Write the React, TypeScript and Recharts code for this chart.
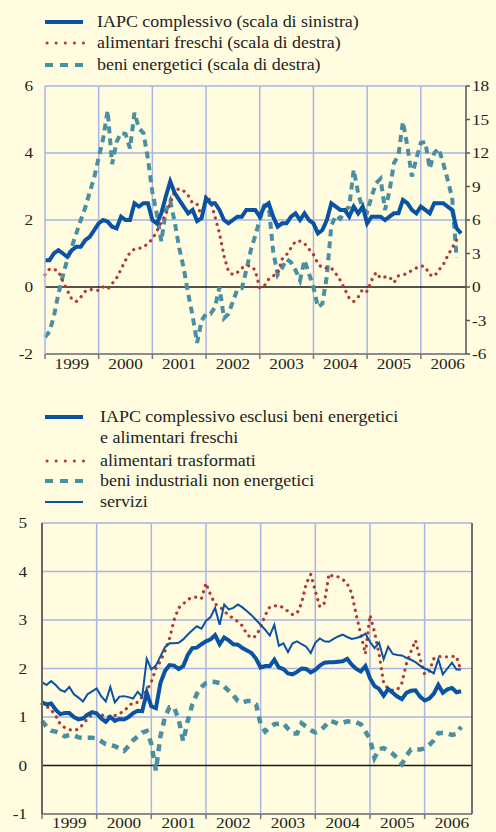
import { LineChart, Line, XAxis, YAxis, ReferenceLine } from "recharts";

// monthly values, Jan 1999 onwards
const years = ["1999", "2000", "2001", "2002", "2003", "2004", "2005", "2006"];
const yearBreaks = [12, 24, 36, 48, 60, 72, 84];
const yearMids = [6, 18, 30, 42, 54, 66, 78, 90];

// top panel
const iapcTop = [
  0.8, 0.8, 1.0, 1.1, 1.0, 0.9, 1.1, 1.2, 1.2, 1.4, 1.5, 1.7,
  1.9, 2.0, 1.95, 1.8, 1.75, 2.1, 2.0, 2.0, 2.5, 2.4, 2.5, 2.5,
  2.0, 1.9, 2.2, 2.7, 3.15, 2.8, 2.6, 2.4, 2.2, 2.3, 1.97, 2.05,
  2.65, 2.5, 2.5, 2.3, 2.0, 1.9, 2.0, 2.1, 2.1, 2.3, 2.3, 2.3,
  2.1, 2.4, 2.5, 2.1, 1.8, 1.9, 1.9, 2.1, 2.2, 2.0, 2.2, 2.0,
  1.9, 1.6, 1.7, 2.0, 2.5, 2.4, 2.3, 2.3, 2.1, 2.4, 2.2, 2.4,
  1.9, 2.1, 2.1, 2.1, 2.0, 2.1, 2.2, 2.2, 2.6, 2.5, 2.3, 2.2,
  2.4, 2.3, 2.2, 2.5, 2.5, 2.5, 2.4, 2.3, 1.75, 1.6,
];
const freschiTop = [
  1.1, 1.6, 1.6, 1.4, 0.5, -0.3, -1.1, -1.3, -0.9, -0.4, -0.2, -0.3,
  -0.3, 0.0, -0.2, 0.3, 0.8, 1.6, 2.4, 3.1, 3.4, 3.45, 3.55, 3.9,
  4.3, 5.0, 5.8, 6.5, 7.5, 8.6, 8.8, 8.6, 8.2, 7.5, 7.4, 6.3,
  8.2, 7.7, 6.3, 4.8, 2.8, 1.4, 1.1, 1.3, 1.7, 1.9, 1.9, 1.5,
  -0.1, 0.1, 0.7, 1.0, 1.2, 2.5, 2.9, 3.5, 4.1, 4.1, 3.9, 3.4,
  2.9, 2.1, 1.7, 1.7, 1.7, 1.2, 0.6, -0.2, -1.0, -1.3, -0.9, -0.2,
  -0.4, 0.6, 1.3, 0.8, 0.9, 0.9, 0.4, 1.0, 1.1, 1.2, 1.5, 1.7,
  1.9, 1.8, 1.1, 0.95, 1.5, 2.0, 2.8, 3.5, 4.2,
];
const energeticiTop = [
  -4.5, -4.0, -2.6, -0.6, 1.0, 2.5, 3.6, 4.8, 6.0, 7.1, 8.5, 9.8,
  11.6, 13.3, 15.8, 11.0, 13.0, 13.8, 13.7, 12.4, 15.6, 14.2, 13.8, 11.5,
  8.5, 6.5, 4.1, 6.8, 7.7, 5.8, 3.5, 1.7, -0.6, -2.6, -5.0, -3.0,
  -2.4, -2.4, -1.8, 0.0, -2.8, -2.4, -1.3, -0.2, -0.1, 1.5, 3.3, 4.6,
  6.0, 7.3, 7.3, 3.2, 1.1, 1.7, 2.5, 2.2, 1.5, 0.6, 2.4, 1.2,
  0.0, -1.8, -1.5, 1.0, 5.5, 6.4, 6.1, 6.8, 7.2, 10.5, 8.4, 7.0,
  6.7, 8.1, 9.3, 9.7, 6.9, 8.6, 11.1, 11.8, 14.8, 12.6, 9.9, 11.5,
  12.9, 13.0, 10.6, 12.0, 12.4, 11.1, 9.6, 8.0, 2.6,
];

// bottom panel
const coreBottom = [
  1.3, 1.26, 1.28, 1.15, 1.06, 1.08, 1.08, 1.0, 0.95, 0.97, 1.05, 1.1,
  1.07, 0.97, 0.9, 1.0, 0.92, 0.96, 0.95, 1.0, 1.08, 1.13, 1.12, 1.5,
  1.22, 1.18, 1.7, 1.95, 2.07, 2.06, 1.99, 2.05, 2.28, 2.42, 2.43, 2.5,
  2.56, 2.6, 2.69, 2.5, 2.64, 2.58, 2.5, 2.49, 2.42, 2.37, 2.32, 2.2,
  2.02, 2.05, 2.05, 2.18, 2.02, 1.99, 1.9, 1.88, 1.93, 2.0, 1.99, 1.92,
  1.97, 2.06, 2.12, 2.13, 2.13, 2.14, 2.15, 2.2, 2.08, 1.99, 1.94, 2.05,
  1.8, 1.64, 1.58, 1.44, 1.58, 1.5, 1.42, 1.37, 1.5, 1.54, 1.55, 1.42,
  1.34, 1.38, 1.48, 1.66, 1.5, 1.57, 1.6, 1.51, 1.53,
];
const trasformatiBottom = [
  1.27, 1.22, 1.15, 1.03, 0.85, 0.78, 0.74, 0.72, 0.75, 0.85, 0.97, 1.05,
  1.08, 1.05, 1.0, 1.01, 1.03, 1.07, 1.12, 1.22, 1.3, 1.3, 1.42, 1.55,
  1.72, 2.0, 2.15, 2.36, 2.62, 3.0, 3.25, 3.33, 3.42, 3.47, 3.47, 3.44,
  3.76, 3.52, 3.33, 3.28, 3.18, 3.1, 3.03, 2.97, 2.88, 2.7, 2.63, 2.67,
  2.85, 3.1, 3.27, 3.29, 3.3, 3.25, 3.18, 3.11, 3.14, 3.35, 3.75, 3.94,
  3.6, 3.27, 3.35, 3.95, 3.89, 3.89, 3.84, 3.75, 3.55, 3.1, 2.7, 2.3,
  3.1, 2.75, 2.3, 1.7, 1.58, 1.55, 1.56, 1.7, 2.1, 2.35, 2.58, 2.2,
  1.88, 1.94, 2.2, 2.25, 2.24, 2.24, 2.25, 2.25, 1.94,
];
const industrialiBottom = [
  0.92, 0.8, 0.72, 0.7, 0.66, 0.6, 0.63, 0.62, 0.58, 0.57, 0.57, 0.57,
  0.56, 0.5, 0.44, 0.42, 0.4, 0.35, 0.3, 0.4, 0.52, 0.6, 0.68, 0.71,
  0.45, -0.1, 0.6, 1.0, 1.2, 1.2, 0.95, 0.5, 0.92, 1.26, 1.48, 1.62,
  1.7, 1.73, 1.72, 1.7, 1.63, 1.54, 1.45, 1.33, 1.3, 1.33, 1.33, 1.26,
  0.85, 0.7, 0.78, 0.85, 0.86, 0.87, 0.76, 0.66, 0.66, 0.87, 0.8, 0.73,
  0.68, 0.72, 0.8, 0.92, 0.9, 0.86, 0.88, 0.91, 0.9, 0.89, 0.85, 0.7,
  0.55, 0.16, 0.34, 0.36, 0.3, 0.24, 0.15, 0.03, 0.2, 0.33, 0.33, 0.33,
  0.35, 0.42, 0.52, 0.67, 0.67, 0.66, 0.63, 0.65, 0.8,
];
const serviziBottom = [
  1.72, 1.66, 1.74, 1.66, 1.56, 1.52, 1.62, 1.47, 1.4, 1.32, 1.47, 1.53,
  1.59, 1.43, 1.32, 1.62, 1.3, 1.42, 1.43, 1.41, 1.38, 1.52, 1.42, 2.2,
  1.98, 2.06, 2.25, 2.44, 2.52, 2.52, 2.53, 2.6, 2.7, 2.79, 2.87, 2.82,
  2.98, 3.06, 3.25, 2.9, 3.32, 3.22, 3.25, 3.32, 3.26, 3.18, 3.1, 3.0,
  2.9, 2.8, 2.68, 2.9, 2.47, 2.52, 2.34, 2.52, 2.56, 2.5, 2.45, 2.32,
  2.53, 2.62, 2.56, 2.55, 2.61, 2.66, 2.7, 2.65, 2.61, 2.63, 2.66, 2.72,
  2.55, 2.42, 2.53, 2.19, 2.45, 2.3, 2.28, 2.27, 2.22, 2.18, 2.13, 2.06,
  2.0, 1.96, 1.9, 2.19, 1.88, 2.0, 2.12, 1.98, 1.98,
];

const topLeftTicks = [-2, 0, 2, 4, 6];
const topRightTicks = [-6, -3, 0, 3, 6, 9, 12, 15, 18];
const bottomTicks = [-1, 0, 1, 2, 3, 4, 5];

const BG = "#fffcdf";
const GRID = "#a9b5e4";
const BLUE = "#0a52a3";
const RED = "#b33a33";
const TEAL = "#4a8fa2";
const TEXT = "#222";
const FONT = "'Liberation Serif', 'Times New Roman', serif";

const topData = iapcTop.map((v, i) => ({
  m: i,
  iapc: v,
  freschi: freschiTop[i] ?? null,
  energetici: energeticiTop[i] ?? null,
}));

const bottomData = coreBottom.map((v, i) => ({
  m: i,
  core: v,
  trasformati: trasformatiBottom[i],
  industriali: industrialiBottom[i],
  servizi: serviziBottom[i],
}));

function SideTick(props: any) {
  const { x, y, payload, anchor } = props;
  return (
    <g transform={`translate(${x},${y})`}>
      <text
        transform="scale(1.15,1)"
        textAnchor={anchor}
        dy="0.36em"
        fontSize={15}
        fontFamily={FONT}
        fill={TEXT}
      >
        {payload.value}
      </text>
    </g>
  );
}

function YearTick(props: any) {
  const { x, y, index, half, dy } = props;
  const bx = x - half;
  return (
    <g>
      <line x1={bx} x2={bx} y1={y} y2={y + 5} stroke="#777" strokeWidth={1.5} />
      <g transform={`translate(${x},${y + dy})`}>
        <text transform="scale(1.15,1)" textAnchor="middle" fontSize={15} fontFamily={FONT} fill={TEXT}>
          {years[index]}
        </text>
      </g>
    </g>
  );
}

function Sample({ kind }: { kind: string }) {
  if (kind === "dots")
    return <line x1={47} x2={84} y1={10} y2={10} stroke={RED} strokeWidth={3} strokeLinecap="round" strokeDasharray="0.1 9" />;
  if (kind === "dash")
    return <line x1={45} x2={83} y1={10} y2={10} stroke={TEAL} strokeWidth={4} strokeDasharray="8 7" />;
  return <line x1={45} x2={83} y1={10} y2={10} stroke={BLUE} strokeWidth={kind === "thin" ? 2 : 4} />;
}

function LegendRow({ top, kind, text, tx }: { top: number; kind?: string; text: string; tx: number }) {
  return (
    <div style={{ position: "absolute", top, left: 0, width: 496, height: 20 }}>
      {kind && (
        <svg width={90} height={20} style={{ position: "absolute", left: 0, top: 0 }}>
          <Sample kind={kind} />
        </svg>
      )}
      <span
        style={{
          position: "absolute",
          left: tx,
          top: 0,
          lineHeight: "20px",
          fontSize: 16,
          fontFamily: FONT,
          color: TEXT,
          whiteSpace: "nowrap",
          transform: "scaleX(1.12)",
          transformOrigin: "left center",
        }}
      >
        {text}
      </span>
    </div>
  );
}

export default function App() {
  return (
    <div style={{ position: "absolute", left: 0, top: 0, width: 496, height: 832, background: BG, overflow: "hidden" }}>
      <div style={{ position: "absolute", left: 0, top: 0 }}>
        <LineChart width={496} height={384} data={topData} margin={{ top: 86, right: 0, bottom: 0, left: 0 }}>
          <XAxis
            dataKey="m"
            type="number"
            domain={[0, 94.1]}
            ticks={yearMids}
            interval={0}
            height={30}
            tickLine={false}
            tickSize={0}
            tickMargin={0}
            axisLine={{ stroke: "#8c8c8c", strokeWidth: 2 }}
            tick={(p: any) => <YearTick {...p} half={26.84} dy={14.5} />}
          />
          <YAxis
            yAxisId="left"
            width={45}
            domain={[-2, 6]}
            ticks={topLeftTicks}
            interval={0}
            tickLine={false}
            tickSize={6}
            tickMargin={6}
            axisLine={{ stroke: GRID, strokeWidth: 1.5 }}
            tick={(p: any) => <SideTick {...p} anchor="end" />}
          />
          <YAxis
            yAxisId="right"
            orientation="right"
            width={30}
            domain={[-6, 18]}
            ticks={topRightTicks}
            interval={0}
            tickSize={4}
            tickMargin={2}
            tickLine={{ stroke: "#555", strokeWidth: 1.5 }}
            axisLine={{ stroke: "#555", strokeWidth: 1.5 }}
            tick={(p: any) => <SideTick {...p} anchor="start" />}
          />
          {yearBreaks.map((b) => (
            <ReferenceLine key={b} x={b} yAxisId="left" stroke={GRID} strokeWidth={1.5} />
          ))}
          {[2, 4, 6].map((v) => (
            <ReferenceLine key={v} y={v} yAxisId="left" stroke={GRID} strokeWidth={1.5} />
          ))}
          <ReferenceLine y={0} yAxisId="left" stroke="#1a1a1a" strokeWidth={1.5} />
          <Line
            yAxisId="right"
            dataKey="energetici"
            stroke={TEAL}
            strokeWidth={4}
            strokeDasharray="7 5"
            dot={false}
            activeDot={false}
            isAnimationActive={false}
          />
          <Line
            yAxisId="right"
            dataKey="freschi"
            stroke={RED}
            strokeWidth={3.2}
            strokeLinecap="round"
            strokeDasharray="0.1 6.5"
            dot={false}
            activeDot={false}
            isAnimationActive={false}
          />
          <Line
            yAxisId="left"
            dataKey="iapc"
            stroke={BLUE}
            strokeWidth={4}
            dot={false}
            activeDot={false}
            isAnimationActive={false}
          />
        </LineChart>
      </div>

      <div style={{ position: "absolute", left: 0, top: 400 }}>
        <LineChart width={496} height={444} data={bottomData} margin={{ top: 123, right: 0, bottom: 0, left: 0 }}>
          <XAxis
            dataKey="m"
            type="number"
            domain={[0, 94.4]}
            ticks={yearMids}
            interval={0}
            height={30}
            tickLine={false}
            tickSize={0}
            tickMargin={0}
            axisLine={{ stroke: "#8c8c8c", strokeWidth: 2 }}
            tick={(p: any) => <YearTick {...p} half={27.33} dy={14} />}
          />
          <YAxis
            yAxisId="left"
            width={42}
            domain={[-1, 5]}
            ticks={bottomTicks}
            interval={0}
            tickLine={false}
            tickSize={6}
            tickMargin={9}
            axisLine={{ stroke: "#666", strokeWidth: 2 }}
            tick={(p: any) => <SideTick {...p} anchor="end" />}
          />
          <YAxis
            yAxisId="right"
            orientation="right"
            width={24}
            domain={[-1, 5]}
            ticks={bottomTicks}
            interval={0}
            tickLine={false}
            tickSize={6}
            tickMargin={4}
            axisLine={{ stroke: "#444", strokeWidth: 1.5 }}
            tick={(p: any) => <SideTick {...p} anchor="start" />}
          />
          {yearBreaks.map((b) => (
            <ReferenceLine key={b} x={b} yAxisId="left" stroke={GRID} strokeWidth={1.5} />
          ))}
          {[1, 2, 3, 4, 5].map((v) => (
            <ReferenceLine key={v} y={v} yAxisId="left" stroke={GRID} strokeWidth={1.5} />
          ))}
          <ReferenceLine y={0} yAxisId="left" stroke="#1a1a1a" strokeWidth={1.5} />
          <Line
            yAxisId="left"
            dataKey="industriali"
            stroke={TEAL}
            strokeWidth={4.5}
            strokeDasharray="7 6"
            dot={false}
            activeDot={false}
            isAnimationActive={false}
          />
          <Line
            yAxisId="left"
            dataKey="trasformati"
            stroke={RED}
            strokeWidth={3.2}
            strokeLinecap="round"
            strokeDasharray="0.1 6.5"
            dot={false}
            activeDot={false}
            isAnimationActive={false}
          />
          <Line
            yAxisId="left"
            dataKey="servizi"
            stroke={BLUE}
            strokeWidth={2}
            dot={false}
            activeDot={false}
            isAnimationActive={false}
          />
          <Line
            yAxisId="left"
            dataKey="core"
            stroke={BLUE}
            strokeWidth={4}
            dot={false}
            activeDot={false}
            isAnimationActive={false}
          />
        </LineChart>
      </div>

      <LegendRow top={12} kind="thick" text="IAPC complessivo (scala di sinistra)" tx={97} />
      <LegendRow top={33} kind="dots" text="alimentari freschi (scala di destra)" tx={97} />
      <LegendRow top={55} kind="dash" text="beni energetici (scala di destra)" tx={97} />

      <LegendRow top={407} kind="thick" text="IAPC complessivo esclusi beni energetici" tx={100} />
      <LegendRow top={428} text="e alimentari freschi" tx={100} />
      <LegendRow top={451} kind="dots" text="alimentari trasformati" tx={100} />
      <LegendRow top={471} kind="dash" text="beni industriali non energetici" tx={100} />
      <LegendRow top={492} kind="thin" text="servizi" tx={100} />
    </div>
  );
}
